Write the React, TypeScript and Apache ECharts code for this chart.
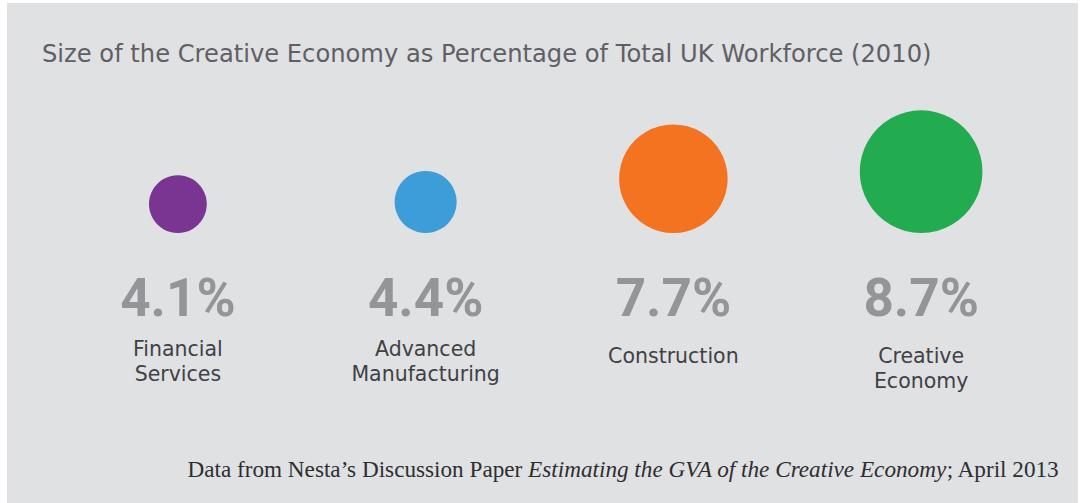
import React, { useEffect, useRef } from "react";
import * as echarts from "echarts";

const TITLE = "Size of the Creative Economy as Percentage of Total UK Workforce (2010)";
const categories = ["Financial\nServices", "Advanced\nManufacturing", "Construction", "Creative\nEconomy"];
const values = [4.1, 4.4, 7.7, 8.7];
const colors = ["#7a3593", "#3d9dd9", "#f37321", "#22ab4f"];
const FOOT_A = "Data from Nesta\u2019s Discussion Paper ";
const FOOT_B = "Estimating the GVA of the Creative Economy";
const FOOT_C = "; April 2013";

// label tweaks (style only): some names sit a bit lower in the original
const lowered = [false, false, true, true];

export default function App() {
  const ref = useRef<HTMLDivElement>(null);
  useEffect(() => {
    const chart = echarts.init(ref.current!, null, { renderer: "svg" });
    const pxPerUnit = 14.1;
    chart.setOption({
      animation: false,
      backgroundColor: "#ffffff",
      title: {
        text: TITLE,
        left: 37,
        top: 37,
        textStyle: {
          fontFamily: "DejaVu Sans",
          fontSize: 24.2,
          fontWeight: "normal",
          color: "#5f6063",
        },
      },
      graphic: [
        {
          type: "rect",
          z: -10,
          silent: true,
          shape: { x: 7, y: 3, width: 1071, height: 500 },
          style: { fill: "#e0e1e3" },
        },
        {
          type: "text",
          right: 21,
          top: 457,
          style: {
            text: `{a|${FOOT_A}}{b|${FOOT_B}}{a|${FOOT_C}}`,
            rich: {
              a: { fontFamily: "Liberation Serif", fontSize: 23.2, fill: "#2e2e30" },
              b: { fontFamily: "Liberation Serif", fontSize: 23.2, fontStyle: "italic", fill: "#2e2e30" },
            },
          },
        },
      ],
      grid: { left: 54, width: 991, top: 100, height: 133 },
      xAxis: {
        type: "category",
        data: categories,
        axisLine: { show: false },
        axisTick: { show: false },
        splitLine: { show: false },
        axisLabel: {
          margin: 27,
          interval: 0,
          formatter: (v: string, i: number) =>
            `{pct|${values[i]}%}\n` + (lowered[i] ? `{sp| }\n` : "") + `{name|${v}}`,
          rich: {
            pct: {
              fontFamily: "Roboto",
              fontSize: 53,
              fontWeight: "bold",
              color: "#939598",
              lineHeight: 76,
              align: "center",
            },
            sp: { fontSize: 6, lineHeight: 7 },
            name: {
              fontFamily: "DejaVu Sans",
              fontSize: 20.5,
              color: "#404143",
              lineHeight: 25,
              align: "center",
            },
          },
        },
      },
      yAxis: { type: "value", min: 0, max: 1, show: false },
      series: [
        {
          type: "scatter",
          data: values.map((v, i) => ({
            value: [i, 0],
            symbolSize: v * pxPerUnit,
            itemStyle: { color: colors[i], opacity: 1 },
          })),
          symbol: "circle",
          symbolOffset: [0, "-50%"],
          clip: false,
        },
      ],
    });
    return () => chart.dispose();
  }, []);
  return (
    <div
      ref={ref}
      style={{ position: "fixed", left: 0, top: 0, width: 1081, height: 503 }}
    />
  );
}
